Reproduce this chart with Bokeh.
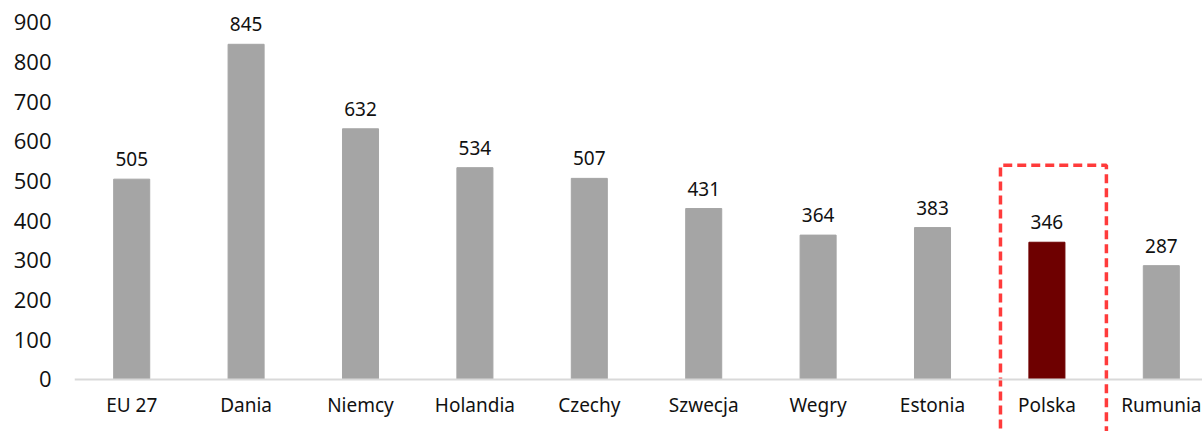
from bokeh.plotting import figure
from bokeh.models import Range1d, FixedTicker, ColumnDataSource
from bokeh.core.properties import value
from bokeh.embed import file_html
from bokeh.resources import INLINE

categories = ["EU 27", "Dania", "Niemcy", "Holandia", "Czechy", "Szwecja", "Wegry", "Estonia", "Polska", "Rumunia"]
values = [505, 845, 632, 534, 507, 431, 364, 383, 346, 287]
highlight = "Polska"
y_ticks = [0, 100, 200, 300, 400, 500, 600, 700, 800, 900]

GRAY = "#A5A5A5"
DARK = "#6E0000"

xs = [i + 0.5 for i in range(len(categories))]
colors = [DARK if c == highlight else GRAY for c in categories]
src = ColumnDataSource(dict(x=xs, top=values, color=colors, label=[str(v) for v in values], cat=categories))

p = figure(width=1202, height=431, output_backend="svg", toolbar_location=None,
           x_range=Range1d(0, 9.86), y_range=Range1d(-131.1, 955.4),
           min_border_left=74, min_border_right=0, min_border_top=0, min_border_bottom=0)
p.outline_line_color = None
p.grid.visible = False

p.vbar(x="x", top="top", bottom=0, width=0.315, color="color", source=src)
p.text(x="x", y="top", text="label", source=src, text_align="center", text_baseline="bottom",
       y_offset=-13, text_font=value("Noto Sans"), text_font_size="19px", text_color="#111111")

# highlight dashed box around Polska
hi = categories.index(highlight) + 0.5
box_left, box_right, box_top = hi - 0.406, hi + 0.52, 540
p.line(x=[box_left, box_left, box_right, box_right], y=[-300, box_top, box_top, -300],
       line_color="#FF3B3B", line_width=3.5, line_dash="9 5")

# y axis
ya = p.yaxis[0]
ya.ticker = FixedTicker(ticks=y_ticks)
ya.axis_line_color = None
ya.major_tick_line_color = None
ya.minor_tick_line_color = None
ya.major_label_text_font = "Open Sans"
ya.major_label_text_font_size = "22px"
ya.major_label_text_color = "#111111"
ya.major_label_standoff = 17

# x axis at value 0
xa = p.xaxis[0]
xa.fixed_location = 0
xa.ticker = FixedTicker(ticks=xs)
xa.major_label_overrides = {x: c for x, c in zip(xs, categories)}
xa.minor_tick_line_color = None
xa.major_tick_line_color = None
xa.axis_line_color = "#D9D9D9"
xa.axis_line_width = 2
xa.major_label_text_font = "Noto Sans"
xa.major_label_text_font_size = "19px"
xa.major_label_text_color = "#111111"
xa.major_label_standoff = 7

open("out.html", "w").write(file_html(p, INLINE))
